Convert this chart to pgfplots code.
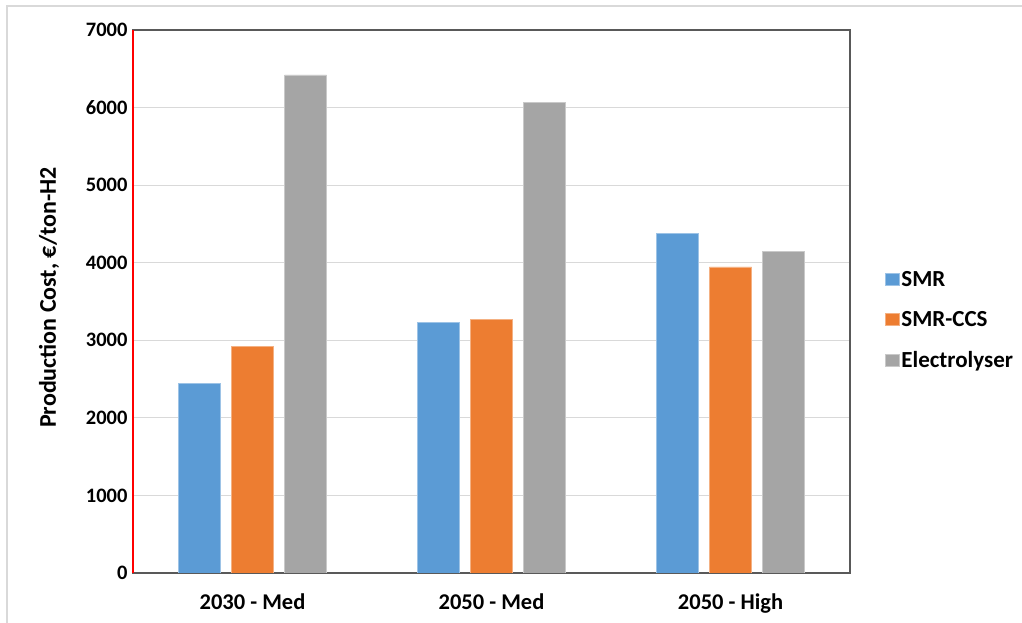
\documentclass[border=0pt]{standalone}
\usepackage{fontspec}
\setmainfont{Carlito}
\usepackage{pgfplots}
\pgfplotsset{compat=1.18}
\definecolor{smr}{HTML}{5B9BD5}
\definecolor{ccs}{HTML}{ED7D31}
\definecolor{ele}{HTML}{A5A5A5}
\definecolor{gridc}{HTML}{D9D9D9}
\definecolor{axc}{HTML}{595959}
\begin{document}
\begin{tikzpicture}[x=1pt,y=1pt]
\useasboundingbox (-133,-50) rectangle (889,573);
\draw[gridc,line width=2pt] (-125.5,-50) -- (-125.5,566.5) -- (889,566.5);
\begin{axis}[
  at={(0,0)}, anchor=south west,
  scale only axis, width=717pt, height=543pt,
  xmin=-0.5, xmax=2.5, ymin=0, ymax=7000,
  xtick={0,1,2},
  xticklabels={2030 - Med,2050 - Med,2050 - High},
  ytick={0,1000,...,7000},
  major tick length=0pt,
  ymajorgrids, grid style={gridc,line width=1pt},
  axis line style={axc,line width=1.3pt},
  ticklabel style={font=\fontsize{20.5}{24}\selectfont\bfseries, text=black},
  xticklabel style={font=\fontsize{22.5}{26}\selectfont\bfseries, yshift=-17pt},
  /pgf/number format/assume math mode=true,
  /pgf/number format/set thousands separator={},
  yticklabel style={xshift=-2pt},
  ylabel={Production Cost, €/ton-H2},
  ylabel style={font=\fontsize{24}{28}\selectfont\bfseries, yshift=20pt, xshift=4pt},
  ybar, bar width=0.176,
  legend style={at={(1.048,0.466)}, anchor=west, draw=none, font=\fontsize{23}{27}\selectfont\bfseries, row sep=19.5pt,
    legend cell align=left, inner sep=0pt},
  legend image code/.code={\fill[#1] (0pt,-6pt) rectangle (14pt,6pt);},
]
\addplot[fill=smr, draw=smr!60!white, line width=0.8pt, bar shift=-0.222] coordinates {(0,2440) (1,3225) (2,4375)};
\addplot[fill=ccs, draw=ccs!60!white, line width=0.8pt, bar shift=0] coordinates {(0,2920) (1,3265) (2,3945)};
\addplot[fill=ele, draw=ele!60!white, line width=0.8pt, bar shift=0.222] coordinates {(0,6420) (1,6070) (2,4140)};
\legend{SMR,SMR-CCS,Electrolyser}
\end{axis}
\draw[red,line width=1.3pt] (0,0) -- (0,543);
\end{tikzpicture}
\end{document}
